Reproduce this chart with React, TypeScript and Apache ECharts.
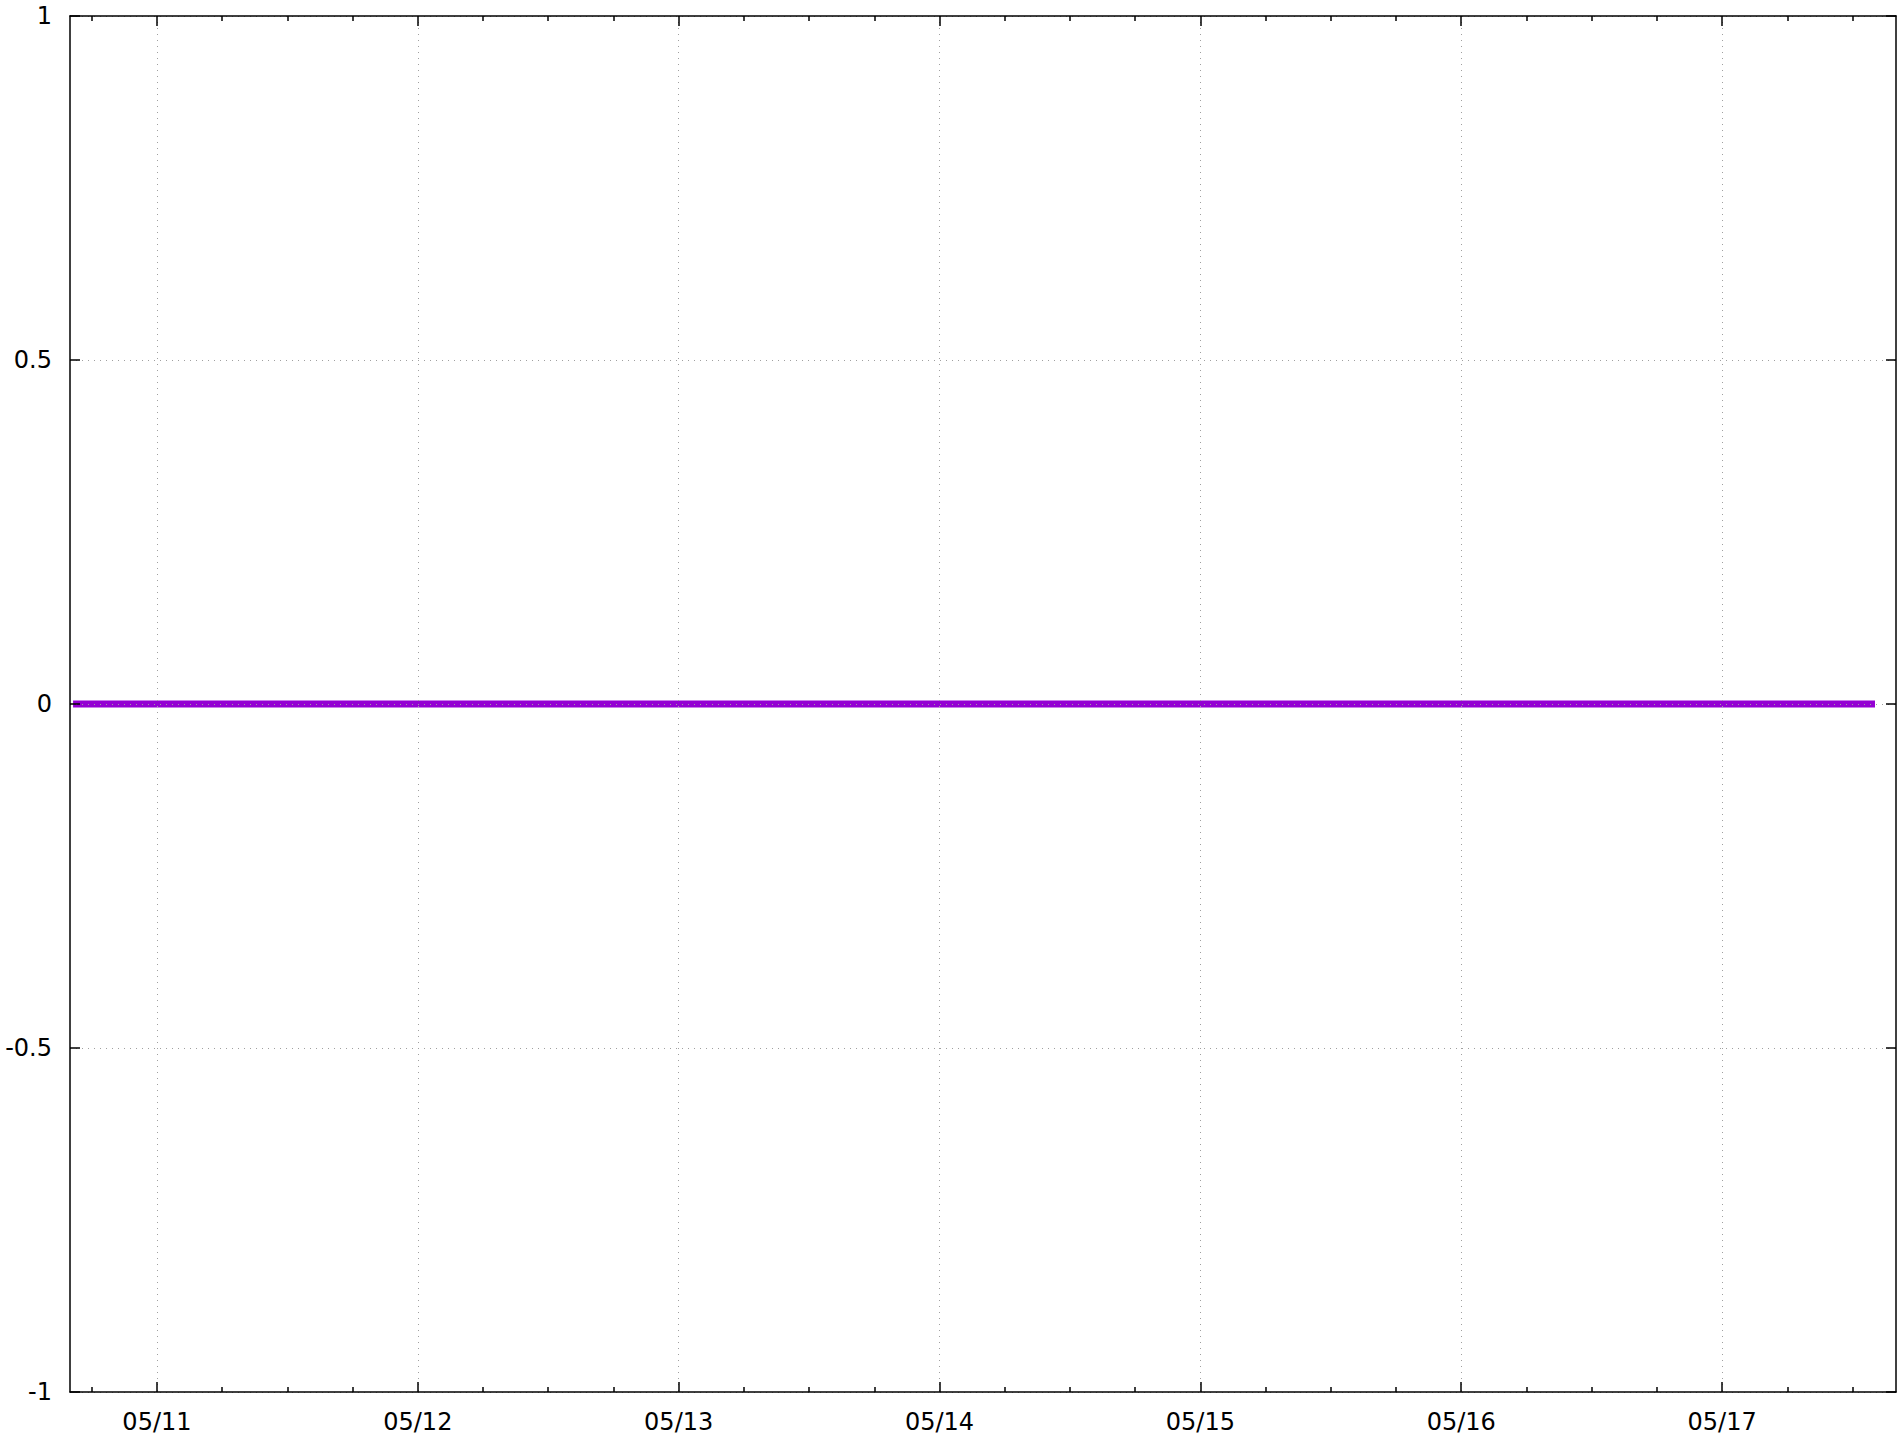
import React, { useEffect, useRef } from "react";
import * as echarts from "echarts";

// Data: sample times (MM/DD hh:mm) and values
const pointTimes = [
  "05/10 16:17",
  "05/11 00:00",
  "05/12 00:00",
  "05/13 00:00",
  "05/14 00:00",
  "05/15 00:00",
  "05/16 00:00",
  "05/17 00:00",
  "05/17 14:04",
];
const pointValues = [0, 0, 0, 0, 0, 0, 0, 0, 0];

// Axis tick labels
const xTickLabels = ["05/11", "05/12", "05/13", "05/14", "05/15", "05/16", "05/17"];
const xRangeStart = "05/10 16:00";
const xRangeEnd = "05/17 16:00";
const yMin = -1;
const yMax = 1;
const yInterval = 0.5;

// hours since 05/10 00:00
function toHours(s: string): number {
  const [md, hm] = s.split(" ");
  const [, dd] = md.split("/").map(Number);
  const [h, m] = (hm || "00:00").split(":").map(Number);
  return (dd - 10) * 24 + h + m / 60;
}

const FONT = "DejaVu Sans";

export default function App() {
  const ref = useRef<HTMLDivElement>(null);

  useEffect(() => {
    if (!ref.current) return;
    const chart = echarts.init(ref.current, null, { renderer: "svg" });

    const xMin = toHours(xRangeStart);
    const xMax = toHours(xRangeEnd);
    const majorHours = xTickLabels.map((l) => toHours(l + " 00:00"));
    const minors: number[] = [];
    for (let h = Math.ceil(xMin / 6) * 6; h < xMax; h += 6) {
      if (!majorHours.includes(h)) minors.push(h);
    }

    const gridLine = { show: true, lineStyle: { color: "#a0a0a0", width: 1, type: [1, 5] as any } };
    const axisLine = { show: true, onZero: false, lineStyle: { color: "#000", width: 1.5 } };
    const baseX = { type: "value" as const, min: xMin, max: xMax, gridIndex: 0, z: 3 };

    const option: any = {
      animation: false,
      backgroundColor: "#fff",
      grid: {
        left: 70,
        right: 6,
        top: 16,
        bottom: 45,
        containLabel: false,
        outerBoundsMode: "none",
        show: false,
      },
      xAxis: [
        {
          ...baseX,
          position: "bottom",
          axisLine,
          axisTick: {
            show: true,
            inside: true,
            length: 10,
            customValues: majorHours,
            lineStyle: { color: "#000", width: 1.5 },
          },
          axisLabel: {
            show: true,
            customValues: majorHours,
            formatter: (v: number) => {
              const i = majorHours.indexOf(v);
              return i >= 0 ? xTickLabels[i] : "";
            },
            margin: 18,
            fontSize: 24,
            fontFamily: FONT,
            color: "#000",
          },
          splitLine: gridLine,
        },
        {
          ...baseX,
          position: "bottom",
          axisLine: { show: false, onZero: false },
          axisTick: {
            show: true,
            inside: true,
            length: 5,
            customValues: minors,
            lineStyle: { color: "#000", width: 1.5 },
          },
          axisLabel: { show: false },
          splitLine: { show: false },
        },
        {
          ...baseX,
          position: "top",
          axisLine,
          axisTick: {
            show: true,
            inside: true,
            length: 10,
            customValues: majorHours,
            lineStyle: { color: "#000", width: 1.5 },
          },
          axisLabel: { show: false },
          splitLine: { show: false },
        },
        {
          ...baseX,
          position: "top",
          axisLine: { show: false, onZero: false },
          axisTick: {
            show: true,
            inside: true,
            length: 5,
            customValues: minors,
            lineStyle: { color: "#000", width: 1.5 },
          },
          axisLabel: { show: false },
          splitLine: { show: false },
        },
      ],
      yAxis: [
        {
          type: "value",
          position: "left",
          min: yMin,
          max: yMax,
          interval: yInterval,
          z: 3,
          axisLine,
          axisTick: { show: true, inside: true, length: 10, lineStyle: { color: "#000", width: 1.5 } },
          axisLabel: {
            show: true,
            margin: 18,
            fontSize: 24,
            fontFamily: FONT,
            color: "#000",
            formatter: (v: number) => String(v),
          },
          splitLine: gridLine,
        },
        {
          type: "value",
          position: "right",
          min: yMin,
          max: yMax,
          interval: yInterval,
          z: 3,
          axisLine,
          axisTick: { show: true, inside: true, length: 10, lineStyle: { color: "#000", width: 1.5 } },
          axisLabel: { show: false },
          splitLine: { show: false },
        },
      ],
      series: [
        {
          type: "line",
          xAxisIndex: 0,
          yAxisIndex: 0,
          z: 1,
          data: pointTimes.map((t, i) => [toHours(t), pointValues[i]]),
          showSymbol: false,
          symbol: "none",
          lineStyle: { color: "#9400d3", width: 7 },
        },
      ],
    };

    chart.setOption(option);
    return () => chart.dispose();
  }, []);

  return (
    <div
      ref={ref}
      style={{ position: "fixed", left: 0, top: 0, width: 1902, height: 1437, background: "#fff" }}
    />
  );
}
